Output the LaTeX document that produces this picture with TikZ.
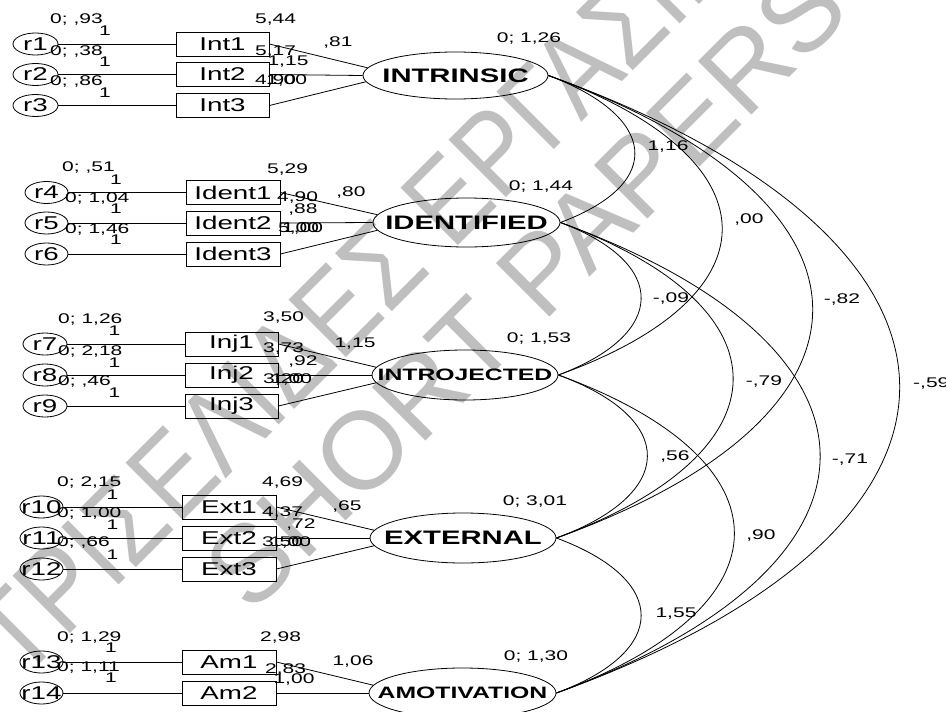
\documentclass[tikz,border=0pt]{standalone}
\usepackage{fontspec}
\newfontfamily\amos[FakeStretch=1.5]{Liberation Sans}
\newfontfamily\wmfont{Liberation Sans}
\newfontfamily\wmnarrow[FakeStretch=0.86]{Liberation Sans}
\usetikzlibrary{calc,shapes.geometric}
\newcommand\covarc[4]{\draw[arcline] (#1.east) .. controls ($(#1.east)+(#3,#4)$) and ($(#2.east)+(#3,-#4)$) .. (#2.east);}
\begin{document}
\begin{tikzpicture}[x=1pt,y=-1pt,
  resid/.style={ellipse,draw,line width=0.8pt,minimum width=45pt,minimum height=22pt,inner sep=0pt},
  rtext/.style={inner sep=0pt,font=\amos\fontsize{18.5}{18.5}\selectfont},
  ind/.style={rectangle,draw,line width=0.8pt,minimum width=93pt,minimum height=24pt,inner sep=0pt,font=\amos\fontsize{18.5}{18.5}\selectfont},
  latent/.style={ellipse,draw,line width=0.8pt,minimum width=186pt,minimum height=49pt,inner sep=0pt},
  ltext/.style={inner sep=0pt,font=\amos\bfseries\fontsize{19.5}{19.5}\selectfont},
  lsmall/.style={inner sep=0pt,font=\amos\bfseries\fontsize{16.5}{16.5}\selectfont},
  num/.style={inner sep=0pt,font=\amos\fontsize{14}{14}\selectfont},
  wmk/.style={inner sep=0pt,text=black!25},
  link/.style={line width=0.8pt},
  arcline/.style={line width=0.8pt}]
\useasboundingbox (0,0) rectangle (946,712);
\clip (0,0) rectangle (946,712);
\fill[white] (0,0) rectangle (946,712);
% watermark
\node[wmk,font=\wmnarrow\fontsize{118}{118}\selectfont,anchor=base west,rotate=45] (wm1) at (21,683) {ΤΡΙΣΕΛΙΔΕΣ ΕΡΓΑΣΙΕΣ};
\node[wmk,font=\wmfont\fontsize{110}{110}\selectfont,anchor=base west,rotate=45] (wm2) at (251,616) {SHORT PAPERS};
% ---------- latent variables
\node[latent,minimum width=185pt,minimum height=47pt] (INT) at (455.5,75.5) {};
\node[ltext] (tINT) at (INT) {INTRINSIC};
\node[latent,minimum width=187pt] (IDE) at (466.5,222.5) {};
\node[ltext] (tIDE) at (IDE) {IDENTIFIED};
\node[latent,minimum height=50pt] (INJ) at (465,375) {};
\node[lsmall] (tINJ) at (INJ) {INTROJECTED};
\node[latent,minimum height=50pt] (EXT) at (463,538) {};
\node[ltext] (tEXT) at (EXT) {EXTERNAL};
\node[latent,minimum width=187pt,minimum height=50pt] (AMO) at (462.5,693) {};
\node[lsmall] (tAMO) at (AMO) {AMOTIVATION};
% ---------- group 1
\node[resid] (r1) at (35.5,44) {}; \node[rtext] (tr1) at (r1) {r1};
\node[resid] (r2) at (35.5,74.5) {}; \node[rtext] (tr2) at (r2) {r2};
\node[resid] (r3) at (35.5,105.5) {}; \node[rtext] (tr3) at (r3) {r3};
\node[ind] (Int1) at (222.5,44) {Int1};
\node[ind] (Int2) at (222.5,74.5) {Int2};
\node[ind] (Int3) at (222.5,105.5) {Int3};
\draw[link] (r1.east) -- (Int1.west);
\draw[link] (r2.east) -- (Int2.west);
\draw[link] (r3.east) -- (Int3.west);
\draw[link] (Int1.east) -- (INT.175);
\draw[link] (Int2.east) -- (INT.west);
\draw[link] (Int3.east) -- (INT.184);
\node[num,anchor=west] (n1a) at (50,20) {0; ,93};
\node[num] (n1b) at (105,31) {1};
\node[num,anchor=west] (n1c) at (255,20) {5,44};
\node[num,anchor=west] (n1d) at (50,52) {0; ,38};
\node[num] (n1e) at (105,62) {1};
\node[num,anchor=west] (n1f) at (255,52) {5,17};
\node[num] (n1g) at (288,62) {1,15};
\node[num,anchor=west] (n1h) at (50,82) {0; ,86};
\node[num] (n1i) at (105,93) {1};
\node[num,anchor=west] (n1j) at (255,81) {4,90};
\node[num,anchor=west] (n1k) at (266,81) {1,00};
\node[num] (n1l) at (338,43) {,81};
\node[num] (n1m) at (529,39) {0; 1,26};
% ---------- group 2
\node[resid,minimum width=43pt] (r4) at (46.5,192.5) {}; \node[rtext] (tr4) at (r4) {r4};
\node[resid,minimum width=43pt] (r5) at (46.5,223) {}; \node[rtext] (tr5) at (r5) {r5};
\node[resid,minimum width=43pt] (r6) at (46.5,254) {}; \node[rtext] (tr6) at (r6) {r6};
\node[ind,minimum width=94pt] (Ident1) at (233,192.5) {Ident1};
\node[ind,minimum width=94pt] (Ident2) at (233,223) {Ident2};
\node[ind,minimum width=94pt] (Ident3) at (233,254) {Ident3};
\draw[link] (r4.east) -- (Ident1.west);
\draw[link] (r5.east) -- (Ident2.west);
\draw[link] (r6.east) -- (Ident3.west);
\draw[link] (Ident1.east) -- (IDE.175);
\draw[link] (Ident2.east) -- (IDE.west);
\draw[link] (Ident3.east) -- (IDE.185);
\node[num,anchor=west] (n2a) at (62,168) {0; ,51};
\node[num] (n2b) at (116,180) {1};
\node[num,anchor=west] (n2c) at (267,170) {5,29};
\node[num,anchor=west] (n2d) at (65,199) {0; 1,04};
\node[num] (n2e) at (116,209) {1};
\node[num,anchor=west] (n2f) at (277,198) {4,90};
\node[num] (n2g) at (303,210) {,88};
\node[num,anchor=west] (n2h) at (65,230) {0; 1,46};
\node[num] (n2i) at (116,240) {1};
\node[num,anchor=west] (n2j) at (278,229) {5,00};
\node[num,anchor=west] (n2k) at (282,229) {1,00};
\node[num] (n2l) at (351,193) {,80};
\node[num] (n2m) at (541,187) {0; 1,44};
% ---------- group 3
\node[resid,minimum width=44pt] (r7) at (45,344) {}; \node[rtext] (tr7) at (r7) {r7};
\node[resid,minimum width=44pt] (r8) at (45,375) {}; \node[rtext] (tr8) at (r8) {r8};
\node[resid,minimum width=44pt] (r9) at (45,406) {}; \node[rtext] (tr9) at (r9) {r9};
\node[ind] (Inj1) at (231.5,344) {Inj1};
\node[ind] (Inj2) at (231.5,375) {Inj2};
\node[ind] (Inj3) at (231.5,406) {Inj3};
\draw[link] (r7.east) -- (Inj1.west);
\draw[link] (r8.east) -- (Inj2.west);
\draw[link] (r9.east) -- (Inj3.west);
\draw[link] (Inj1.east) -- (INJ.175);
\draw[link] (Inj2.east) -- (INJ.west);
\draw[link] (Inj3.east) -- (INJ.185);
\node[num,anchor=west] (n3a) at (58,320) {0; 1,26};
\node[num] (n3b) at (114.5,331) {1};
\node[num,anchor=west] (n3c) at (263,318) {3,50};
\node[num,anchor=west] (n3d) at (58,352) {0; 2,18};
\node[num] (n3e) at (114.5,363) {1};
\node[num,anchor=west] (n3f) at (263,349) {3,73};
\node[num] (n3g) at (303,362) {,92};
\node[num,anchor=west] (n3h) at (58,382) {0; ,46};
\node[num] (n3i) at (114.5,393) {1};
\node[num,anchor=west] (n3j) at (263,380) {3,20};
\node[num,anchor=west] (n3k) at (271,380) {1,00};
\node[num] (n3l) at (355,344) {1,15};
\node[num] (n3m) at (539,339) {0; 1,53};
% ---------- group 4
\node[resid,minimum width=43pt] (r10) at (41.5,507) {}; \node[rtext] (tr10) at (r10) {r10};
\node[resid,minimum width=43pt] (r11) at (41.5,538) {}; \node[rtext] (tr11) at (r11) {r11};
\node[resid,minimum width=43pt] (r12) at (41.5,569) {}; \node[rtext] (tr12) at (r12) {r12};
\node[ind,minimum width=94pt] (Ext1) at (229,507) {Ext1};
\node[ind,minimum width=94pt] (Ext2) at (229,538) {Ext2};
\node[ind,minimum width=94pt] (Ext3) at (229,569) {Ext3};
\draw[link] (r10.east) -- (Ext1.west);
\draw[link] (r11.east) -- (Ext2.west);
\draw[link] (r12.east) -- (Ext3.west);
\draw[link] (Ext1.east) -- (EXT.175);
\draw[link] (Ext2.east) -- (EXT.west);
\draw[link] (Ext3.east) -- (EXT.185);
\node[num,anchor=west] (n4a) at (57,483) {0; 2,15};
\node[num] (n4b) at (112.5,495) {1};
\node[num,anchor=west] (n4c) at (262,483) {4,69};
\node[num,anchor=west] (n4d) at (57,514) {0; 1,00};
\node[num] (n4e) at (112.5,525) {1};
\node[num,anchor=west] (n4f) at (262,513) {4,37};
\node[num] (n4g) at (301,525) {,72};
\node[num,anchor=west] (n4h) at (57,543) {0; ,66};
\node[num] (n4i) at (112.5,555) {1};
\node[num,anchor=west] (n4j) at (262,543) {3,50};
\node[num,anchor=west] (n4k) at (270,543) {1,00};
\node[num] (n4l) at (347,507) {,65};
\node[num] (n4m) at (535,502) {0; 3,01};
% ---------- group 5
\node[resid,minimum width=43pt] (r13) at (41.5,662) {}; \node[rtext] (tr13) at (r13) {r13};
\node[resid,minimum width=43pt] (r14) at (41.5,693) {}; \node[rtext] (tr14) at (r14) {r14};
\node[ind,minimum width=94pt] (Am1) at (229,662) {Am1};
\node[ind,minimum width=94pt] (Am2) at (229,693) {Am2};
\draw[link] (r13.east) -- (Am1.west);
\draw[link] (r14.east) -- (Am2.west);
\draw[link] (Am1.east) -- (AMO.175);
\draw[link] (Am2.east) -- (AMO.west);
\node[num,anchor=west] (n5a) at (57,638) {0; 1,29};
\node[num] (n5b) at (111,648) {1};
\node[num,anchor=west] (n5c) at (260,638) {2,98};
\node[num,anchor=west] (n5d) at (57,668) {0; 1,11};
\node[num] (n5e) at (111,678) {1};
\node[num,anchor=west] (n5f) at (265,670) {2,83};
\node[num] (n5g) at (294,680) {1,00};
\node[num] (n5l) at (353,662) {1,06};
\node[num] (n5m) at (536,657) {0; 1,30};
% ---------- covariances
\covarc{INT}{IDE}{107}{40}
\covarc{IDE}{INJ}{109}{41}
\covarc{INJ}{EXT}{120}{44}
\covarc{EXT}{AMO}{113}{42}
\covarc{INT}{INJ}{225}{81}
\covarc{IDE}{EXT}{233}{85}
\covarc{INJ}{AMO}{236}{86}
\covarc{INT}{EXT}{347}{125}
\covarc{IDE}{AMO}{349}{127}
\covarc{INT}{AMO}{463}{167}
\node[num] (c1) at (668,147) {1,16};
\node[num] (c2) at (749,220) {,00};
\node[num] (c3) at (842,300) {-,82};
\node[num,anchor=west] (c4) at (913,384) {-,59};
\node[num] (c5) at (671,299) {-,09};
\node[num] (c6) at (764,382) {-,79};
\node[num] (c7) at (850,460) {-,71};
\node[num] (c8) at (675,457) {,56};
\node[num] (c9) at (761,536) {,90};
\node[num] (c10) at (676,614) {1,55};
\end{tikzpicture}
\end{document}
